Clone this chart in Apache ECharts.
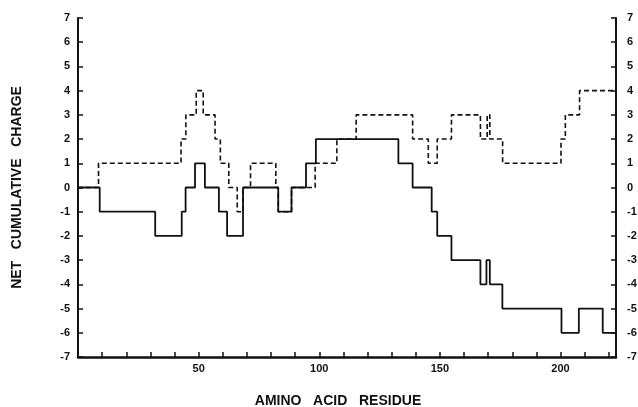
<!DOCTYPE html>
<html>
<head>
<meta charset="utf-8">
<script src="https://cdn.jsdelivr.net/npm/echarts@6/dist/echarts.min.js"></script>
<style>html,body{margin:0;padding:0;background:#fff}#c{width:638px;height:407px}</style>
</head>
<body>
<div id="c"></div>
<script>
// Solid line: residue where each level begins, and the level
var solidX = [0, 9, 32, 43, 44.6, 48.5, 52.6, 58.4, 61.8, 68.4, 83, 88.5, 94.5, 98.6, 132.8, 138.7, 146.6, 148.9, 154.8, 166.8, 169.3, 170.7, 175.9, 200.4, 207.6, 217.5, 223];
var solidY = [0, -1, -2, -1, 0, 1, 0, -1, -2, 0, -1, 0, 1, 2, 1, 0, -1, -2, -3, -4, -3, -4, -5, -6, -5, -6, -6];
// Dashed line
var dashX = [0, 8.5, 42.7, 44.7, 49, 51.9, 56.8, 59, 62.5, 66, 68.4, 71.5, 82, 83, 88.5, 98.3, 107.3, 115.3, 138.7, 145.2, 148.9, 154.8, 166.8, 169.6, 170.7, 176, 200.2, 202, 207.9, 223];
var dashY = [0, 1, 2, 3, 4, 3, 2, 1, 0, -1, 0, 1, 0, -1, 0, 1, 2, 3, 2, 1, 2, 3, 2, 3, 2, 1, 2, 3, 4, 4];
var xLabels = [50, 100, 150, 200];
var yTicks = [-7, -6, -5, -4, -3, -2, -1, 0, 1, 2, 3, 4, 5, 6, 7];
var xTitle = 'AMINO   ACID   RESIDUE';
var yTitle = 'NET   CUMULATIVE   CHARGE';

function pairs(xs, ys) { return xs.map(function (x, i) { return [x, ys[i]]; }); }

var font = 'Liberation Sans';
var labelStyle = { color: '#111', fontFamily: font, fontWeight: 'bold', fontSize: 11 };
function yFmt(v) { return yTicks.indexOf(v) >= 0 ? String(v) : ''; }

var chart = echarts.init(document.getElementById('c'), null, { renderer: 'canvas' });
chart.setOption({
  animation: false,
  backgroundColor: '#fff',
  grid: { left: 78, right: 22, top: 18, bottom: 50, containLabel: false, outerBoundsMode: 'none' },
  xAxis: {
    type: 'value', min: 0, max: 223, interval: 10,
    name: xTitle, nameLocation: 'middle', nameGap: 37,
    nameTextStyle: { color: '#111', fontFamily: font, fontWeight: 'bold', fontSize: 14, padding: [0, 18, 0, 0] },
    axisLine: { show: true, onZero: false, lineStyle: { color: '#111', width: 2.5 } },
    axisTick: { show: true, inside: true, length: 5, lineStyle: { color: '#111', width: 1.5 } },
    axisLabel: Object.assign({ margin: 6, formatter: function (v) { return xLabels.indexOf(v) >= 0 ? String(v) : ''; } }, labelStyle),
    splitLine: { show: false }
  },
  yAxis: [{
    type: 'value', min: -7, max: 7, interval: 1, position: 'left',
    name: yTitle, nameLocation: 'middle', nameGap: 54, nameRotate: 90,
    nameTextStyle: { color: '#111', fontFamily: font, fontWeight: 'bold', fontSize: 14 },
    axisLine: { show: true, onZero: false, lineStyle: { color: '#111', width: 2 } },
    axisTick: { show: true, inside: true, length: 5, lineStyle: { color: '#111', width: 1.5 } },
    axisLabel: Object.assign({ margin: 8, formatter: yFmt }, labelStyle),
    splitLine: { show: false }
  }, {
    type: 'value', min: -7, max: 7, interval: 1, position: 'right',
    axisLine: { show: true, onZero: false, lineStyle: { color: '#111', width: 2 } },
    axisTick: { show: true, inside: true, length: 5, lineStyle: { color: '#111', width: 1.5 } },
    axisLabel: Object.assign({ margin: 11, formatter: yFmt }, labelStyle),
    splitLine: { show: false }
  }],
  series: [{
    type: 'line', step: 'end', showSymbol: false, symbol: 'none',
    data: pairs(solidX, solidY),
    lineStyle: { color: '#111', width: 1.8, type: 'solid' }
  }, {
    type: 'line', step: 'end', showSymbol: false, symbol: 'none',
    data: pairs(dashX, dashY),
    lineStyle: { color: '#111', width: 1.6, type: [5, 3] }
  }]
});
</script>
</body>
</html>
